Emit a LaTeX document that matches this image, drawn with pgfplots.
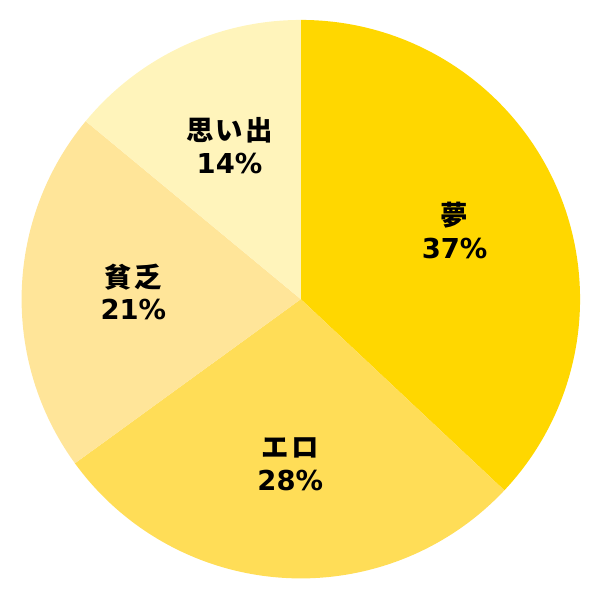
\documentclass[border=0pt]{standalone}
\usepackage{fontspec}
\setmainfont{DejaVu Sans}
\newfontfamily\cjk{Noto Sans CJK JP Bold}[LetterSpace=8]
\usepackage{pgfplots}
\pgfplotsset{compat=1.18}

\definecolor{sliceA}{HTML}{FFD700}
\definecolor{sliceB}{HTML}{FFDD57}
\definecolor{sliceC}{HTML}{FFE599}
\definecolor{sliceD}{HTML}{FFF4BB}

\begin{document}
\begin{tikzpicture}
\begin{axis}[
    hide axis,
    scale only axis,
    width=600pt, height=600pt,
    xmin=0, xmax=600, ymin=0, ymax=600,
    clip=false,
]
\addplot[draw=none] coordinates {(0,0) (600,600)};
% share in percent / label / colour, clockwise from the top
\pgfplotsextra{%
  \path (axis cs:0,0) rectangle (axis cs:600,600);
  \gdef\startang{90}%
  \foreach \p/\lab/\col in {37/夢/sliceA, 28/エロ/sliceB, 21/貧乏/sliceC, 14/思い出/sliceD}{%
    \pgfmathsetmacro\endang{\startang-3.6*\p}%
    \pgfmathsetmacro\midang{(\startang+\endang)/2}%
    \fill[\col] (axis cs:300,300) -- ++(\startang:280pt)
      arc[start angle=\startang, end angle=\endang, radius=280pt] -- cycle;
    \node[align=center, inner sep=0pt,
          font=\fontsize{27.5}{32.5}\selectfont\bfseries]
      at ([shift={(\midang:168pt)},yshift=2pt]axis cs:300,300)
      {{\cjk\lab}\\\p\%};
    \global\let\startang\endang
  }%
}
\end{axis}
\end{tikzpicture}
\end{document}
